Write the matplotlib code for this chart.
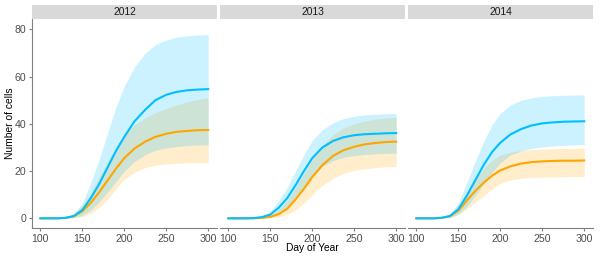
import matplotlib
matplotlib.use("Agg")
from matplotlib import pyplot as plt

plt.rcParams["font.family"] = ["Liberation Sans", "DejaVu Sans"]

years = ["2012", "2013", "2014"]
days = [100, 120, 130, 140, 150, 160, 170, 180, 190, 200, 212, 225, 237, 250, 262, 275, 287, 300]

# blue series (mean, lower, upper) per year
blue_mid = {
    "2012": [0, 0, 0.2, 1.0, 3.5, 8.5, 14.5, 21.5, 28.5, 34.5, 41, 46, 50, 52.3, 53.5, 54.2, 54.5, 54.7],
    "2013": [0, 0, 0.1, 0.5, 1.6, 4.5, 8.5, 14, 20, 25.5, 30, 32.8, 34.3, 35.2, 35.6, 35.8, 36, 36.1],
    "2014": [0, 0, 0.2, 1.0, 3.8, 9.5, 16, 22.5, 28, 32, 35.5, 37.8, 39.3, 40.2, 40.6, 40.9, 41, 41.1],
}
blue_lo = {
    "2012": [0, 0, 0, 0.3, 1.2, 3.5, 7, 11, 15.5, 20, 24, 27, 28.8, 29.8, 30.4, 30.8, 31, 31.1],
    "2013": [0, 0, 0, 0.2, 0.8, 2.5, 5, 9, 13.5, 18, 22, 24.5, 25.8, 26.6, 27, 27.3, 27.5, 27.6],
    "2014": [0, 0, 0, 0.4, 1.8, 5, 9.5, 14.5, 19.5, 23.5, 26.8, 28.6, 29.6, 30.2, 30.6, 30.9, 31.1, 31.2],
}
blue_hi = {
    "2012": [0, 0, 0.4, 2.0, 6.5, 15, 25, 36, 47, 56, 64, 70, 73.5, 75.5, 76.7, 77.3, 77.6, 77.8],
    "2013": [0, 0, 0.2, 1.0, 3.0, 7.5, 13, 20, 27, 33, 37.5, 40.5, 42.2, 43.2, 43.8, 44.1, 44.3, 44.4],
    "2014": [0, 0, 0.4, 1.8, 6.5, 15, 24, 32.5, 39.5, 44.5, 48, 50, 51, 51.6, 51.9, 52.1, 52.2, 52.3],
}
# orange series
orange_mid = {
    "2012": [0, 0, 0.2, 0.9, 3.0, 6.5, 11, 16, 21, 25.5, 29.5, 32.5, 34.5, 35.8, 36.6, 37, 37.3, 37.4],
    "2013": [0, 0, 0, 0.2, 0.6, 1.8, 4, 8, 12.5, 17.5, 22.5, 26.5, 28.8, 30.3, 31.3, 31.9, 32.3, 32.5],
    "2014": [0, 0, 0.2, 0.9, 3.2, 7.5, 11.5, 15, 18, 20.3, 22, 23.2, 23.8, 24.1, 24.3, 24.4, 24.4, 24.5],
}
orange_lo = {
    "2012": [0, 0, 0, 0.2, 0.8, 2.2, 4.5, 8, 12.5, 16.5, 19.5, 21.5, 22.5, 23, 23.3, 23.5, 23.6, 23.6],
    "2013": [0, 0, 0, 0, 0.2, 0.6, 1.5, 3.5, 6.5, 10, 14, 17, 19, 20.3, 21, 21.5, 21.8, 22],
    "2014": [0, 0, 0, 0.3, 1.5, 4, 6.8, 9.5, 12.5, 14.8, 16.2, 17, 17.3, 17.4, 17.5, 17.6, 17.6, 17.6],
}
orange_hi = {
    "2012": [0, 0, 0.4, 1.8, 5.5, 11, 17.5, 24, 30, 35.5, 39.5, 42.5, 44.8, 46.5, 48, 49.3, 50.3, 51],
    "2013": [0, 0, 0, 0.4, 1.2, 3.5, 7.5, 13, 19, 25, 31, 35.5, 38.2, 40, 41.2, 42, 42.5, 42.7],
    "2014": [0, 0, 0.4, 1.8, 5.5, 11.5, 16.5, 21, 24.5, 26.8, 28, 28.7, 29.1, 29.3, 29.5, 29.6, 29.6, 29.7],
}

blue = "#00BFFF"
orange = "#FFA500"
axcol = "#4D4D4D"

fig = plt.figure(figsize=(6, 2.57), dpi=100)
W, H = 600.0, 257.0
lefts = [32, 220, 408]
for i, yr in enumerate(years):
    ax = fig.add_axes([lefts[i] / W, (H - 228) / H, 185 / W, 209 / H])
    ax.fill_between(days, orange_lo[yr], orange_hi[yr], color=orange, alpha=0.2, lw=0)
    ax.plot(days, orange_mid[yr], color=orange, lw=1.5)
    ax.fill_between(days, blue_lo[yr], blue_hi[yr], color=blue, alpha=0.2, lw=0)
    ax.plot(days, blue_mid[yr], color=blue, lw=1.5)
    ax.set_xlim(90, 310.5)
    ax.set_ylim(-4.1, 84.4)
    ax.set_xticks([100, 150, 200, 250, 300])
    ax.set_yticks([0, 20, 40, 60, 80])
    for s in ["top", "right"]:
        ax.spines[s].set_visible(False)
    ax.spines["bottom"].set_color("#7F7F7F")
    ax.spines["left"].set_color("#7F7F7F")
    ax.tick_params(colors="#7F7F7F", labelcolor=axcol, labelsize=7.6, length=2.5, pad=1.5)
    if i > 0:
        ax.spines["left"].set_visible(False)
        ax.tick_params(axis="y", left=False, labelleft=False)
    else:
        ax.set_ylabel("Number of cells", fontsize=7.4, color="black")
        ax.yaxis.set_label_coords(-17 / 185, 0.5)
    if i == 1:
        ax.set_xlabel("Day of Year", fontsize=7.4, color="black")
        ax.xaxis.set_label_coords(0.5, -15 / 209)
    sax = fig.add_axes([lefts[i] / W, (H - 19) / H, 185 / W, 14 / H])
    sax.set_facecolor("#D9D9D9")
    sax.set_xticks([])
    sax.set_yticks([])
    for s in sax.spines.values():
        s.set_visible(False)
    sax.text(0.5, 0.5, yr, ha="center", va="center", fontsize=7.4, color="#1A1A1A",
             transform=sax.transAxes)

fig.savefig("out.png", dpi=100)
